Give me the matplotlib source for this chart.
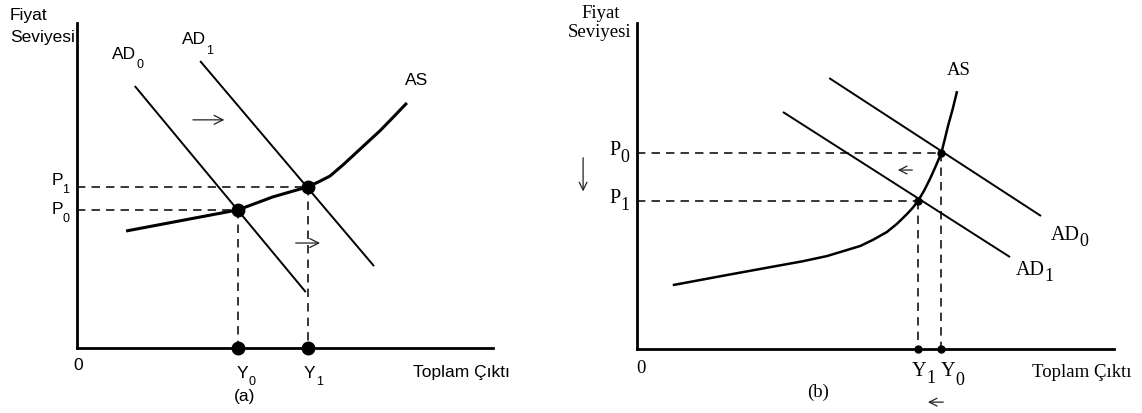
import matplotlib
matplotlib.use('Agg')
import matplotlib.pyplot as plt

# ---- panel (a): demand shift to the right ----
# x = total output, y = price level (0-100 on each axis)
a_ad0_x = [13.9, 55.0]
a_ad0_y = [80.6, 17.2]
a_ad1_x = [29.6, 71.4]
a_ad1_y = [88.3, 25.2]
a_as_x = [11.8, 38.7, 47.1, 55.5, 58.2, 60.8, 64.0, 67.3, 70.0, 72.8, 76.0, 79.3]
a_as_y = [36.0, 42.5, 46.5, 49.6, 51.2, 52.9, 56.4, 60.3, 63.5, 66.8, 71.0, 75.4]
a_eq_y = [38.7, 55.5]   # Y0, Y1
a_eq_p = [42.5, 49.6]   # P0, P1

# ---- panel (b): demand shift to the left ----
b_ad0_x = [40.3, 84.7]
b_ad0_y = [83.1, 40.8]
b_ad1_x = [30.6, 78.2]
b_ad1_y = [72.7, 28.2]
b_as_x = [7.5, 18.9, 29.4, 34.7, 39.8, 43.2, 46.8, 49.5, 52.4, 54.5, 56.6, 57.8,
          58.9, 60.2, 61.4, 62.6, 63.8, 64.5, 65.2, 66.2, 67.1]
b_as_y = [19.6, 22.7, 25.5, 26.9, 28.5, 30.0, 31.6, 33.5, 35.9, 38.4, 41.4, 43.3,
          45.4, 48.6, 52.1, 56.0, 60.1, 64.2, 68.4, 73.7, 79.1]
b_eq_y = [63.8, 58.9]   # Y0, Y1
b_eq_p = [60.1, 45.4]   # P0, P1

W, H = 1142, 414
fig = plt.figure(figsize=(W / 100, H / 100), dpi=100)
renderer = fig.canvas.get_renderer()


def add_ax(left, bottom, width, height):
    ax = fig.add_axes([left / W, 1 - bottom / H, width / W, height / H])
    ax.set_xlim(0, 100)
    ax.set_ylim(0, 100)
    for s in ['top', 'right']:
        ax.spines[s].set_visible(False)
    for s in ['left', 'bottom']:
        ax.spines[s].set_linewidth(2.0)
    ax.set_xticks([])
    ax.set_yticks([])
    ax.patch.set_alpha(0)
    return ax


def lab(x, y, s, size, family, ha='left'):
    return fig.text(x / W, 1 - y / H, s, fontsize=size, family=family, ha=ha, va='baseline')


def lab_sub(x, y, main, sub, size, subsize, family, drop, gap=0):
    # main text, then a subscript placed right after it and lowered by `drop` px
    t = lab(x, y, main, size, family)
    bb = t.get_window_extent(renderer)
    lab(bb.x1 + gap, y + drop, sub, subsize, family)


line = dict(color='black', solid_joinstyle='round', solid_capstyle='butt')
dash = dict(color='black', lw=1.1, dashes=(5.5, 4.0), clip_on=False)

# ---------------- panel (a) ----------------
ax = add_ax(77, 349, 416, 325)
ax.plot(a_ad0_x, a_ad0_y, lw=1.4, **line)
ax.plot(a_ad1_x, a_ad1_y, lw=1.4, **line)
ax.plot(a_as_x, a_as_y, lw=2.2, **line)
for yv, pv in zip(a_eq_y, a_eq_p):
    ax.plot([0, yv], [pv, pv], **dash)
    ax.plot([yv, yv], [pv, 0], **dash)
ax.plot(a_eq_y, a_eq_p, 'o', color='black', ms=9, clip_on=False, zorder=5)
ax.plot(a_eq_y, [0, 0], 'o', color='black', ms=9, clip_on=False, zorder=5)
arr = dict(arrowstyle='->', lw=0.9, mutation_scale=16, color='#222222')
ax.annotate('', xy=(36.1, 70.2), xytext=(27.2, 70.2), arrowprops=arr)
ax.annotate('', xy=(59.1, 32.3), xytext=(51.9, 32.3), arrowprops=arr)

sf = ['Liberation Sans', 'DejaVu Sans']
lab(10, 20, 'Fiyat', 12.5, sf)
lab(10, 42, 'Seviyesi', 12.5, sf)
lab_sub(112, 59, 'AD', '0', 12.5, 9, sf, 9)
lab_sub(182, 44, 'AD', '1', 12.5, 9, sf, 10)
lab(405, 85, 'AS', 12.5, sf)
lab_sub(52, 185, 'P', '1', 12.5, 9, sf, 8, gap=-1)
lab_sub(52, 214, 'P', '0', 12.5, 9, sf, 8, gap=-1)
lab(73, 370, '0', 12.5, sf)
lab_sub(237, 378, 'Y', '0', 12.5, 9, sf, 7)
lab_sub(304, 378, 'Y', '1', 12.5, 9, sf, 7)
lab(245, 401, '(a)', 12.5, sf, ha='center')
lab(413, 377, 'Toplam Çıktı', 12.5, sf)

# ---------------- panel (b) ----------------
bx = add_ax(637, 350, 477, 326)
bx.plot(b_ad0_x, b_ad0_y, lw=1.4, **line)
bx.plot(b_ad1_x, b_ad1_y, lw=1.4, **line)
bx.plot(b_as_x, b_as_y, lw=1.8, **line)
for yv, pv in zip(b_eq_y, b_eq_p):
    bx.plot([0, yv], [pv, pv], **dash)
    bx.plot([yv, yv], [pv, 0], **dash)
bx.plot(b_eq_y, b_eq_p, 'o', color='black', ms=5, clip_on=False, zorder=5)
bx.plot(b_eq_y, [0, 0], 'o', color='black', ms=5, clip_on=False, zorder=5)
arr2 = dict(arrowstyle='->', lw=0.9, mutation_scale=14, color='#222222')
bx.annotate('', xy=(54.1, 54.9), xytext=(58.3, 54.9), arrowprops=arr2, annotation_clip=False)
bx.annotate('', xy=(60.4, -16.3), xytext=(64.8, -16.3), arrowprops=arr2, annotation_clip=False)
bx.annotate('', xy=(-11.3, 47.5), xytext=(-11.3, 59.5), arrowprops=arr2, annotation_clip=False)

tf = ['Liberation Serif', 'DejaVu Serif']
lab(601, 18, 'Fiyat', 13.5, tf, ha='center')
lab(600, 37, 'Seviyesi', 13.5, tf, ha='center')
lab(947, 75, 'AS', 13.5, tf)
lab_sub(1051, 240, 'AD', '0', 14.5, 13, tf, 6)
lab_sub(1016, 275, 'AD', '1', 14.5, 13, tf, 6)
lab_sub(609, 155, 'P', '0', 14.5, 13, tf, 7)
lab_sub(609, 203, 'P', '1', 14.5, 13, tf, 7)
lab(636, 373, '0', 13.5, tf)
lab_sub(912, 376, 'Y', '1', 14.5, 13, tf, 7)
lab_sub(941, 376, 'Y', '0', 14.5, 13, tf, 9)
lab(818, 397, '(b)', 13.5, tf, ha='center')
lab(1032, 377, 'Toplam Çıktı', 13.5, tf)

fig.savefig('out.png', dpi=100)
